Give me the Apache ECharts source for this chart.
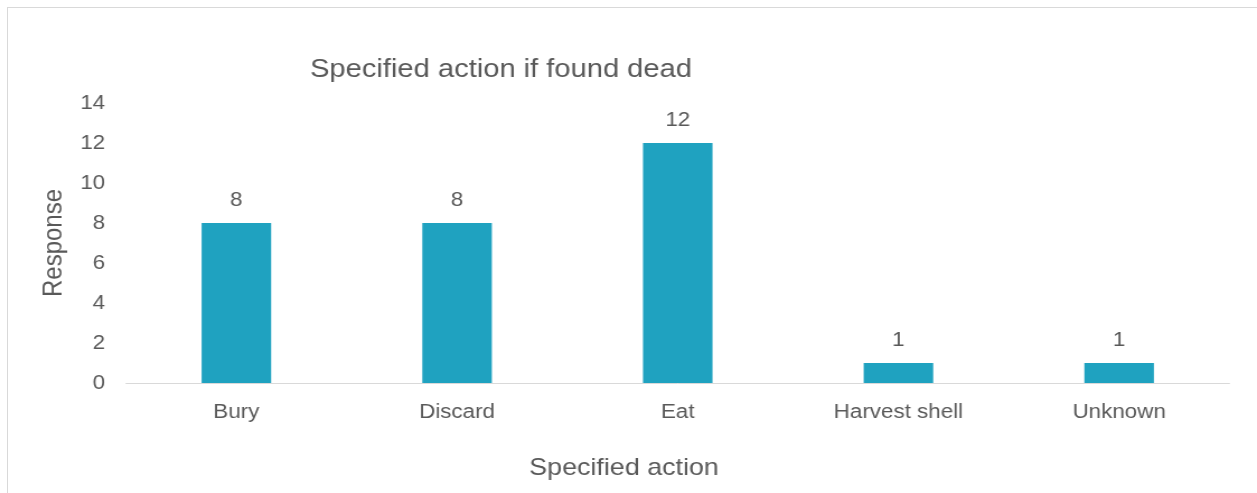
<!DOCTYPE html>
<html>
<head>
<meta charset="utf-8">
<script src="https://cdn.jsdelivr.net/npm/echarts@6/dist/echarts.min.js"></script>
<style>
html,body{margin:0;padding:0;background:#fff;overflow:hidden;}
#frame{position:absolute;left:7px;top:7px;width:1400px;height:700px;border-left:1px solid #d9d9d9;border-top:1px solid #d9d9d9;box-sizing:border-box;}
#c{position:absolute;left:0;top:0;width:1123px;height:493px;transform:scaleX(1.11932);transform-origin:0 0;}
</style>
</head>
<body>
<div id="frame"></div>
<div id="c"></div>
<script>
const categories = ['Bury', 'Discard', 'Eat', 'Harvest shell', 'Unknown'];
const responses = [8, 8, 12, 1, 1];
const yTicks = [0, 2, 4, 6, 8, 10, 12, 14];

const txt = '#595959';
const font = 'Liberation Sans, Arial, sans-serif';
const chart = echarts.init(document.getElementById('c'), null, {renderer: 'canvas'});
chart.setOption({
  animation: false,
  backgroundColor: 'transparent',
  title: {
    text: 'Specified action if found dead',
    left: 442.6, top: 52, textAlign: 'center',
    textStyle: {color: txt, fontFamily: font, fontSize: 26, fontWeight: 'normal'}
  },
  grid: {left: 112.6, right: 24.6, top: 103, bottom: 110, containLabel: false},
  xAxis: {
    type: 'category',
    data: categories,
    name: 'Specified action',
    nameLocation: 'middle',
    nameGap: 73,
    nameTextStyle: {color: txt, fontFamily: font, fontSize: 24, padding: [0, 96, 0, 0]},
    axisLine: {lineStyle: {color: '#d9d9d9', width: 1}},
    axisTick: {show: false},
    axisLabel: {color: txt, fontFamily: font, fontSize: 20, margin: 19}
  },
  yAxis: {
    type: 'value',
    min: yTicks[0], max: yTicks[yTicks.length - 1], interval: 2,
    name: 'Response',
    nameLocation: 'middle',
    nameGap: 44,
    nameTextStyle: {color: txt, fontFamily: font, fontSize: 24},
    splitLine: {show: false},
    axisLine: {show: false},
    axisTick: {show: false},
    axisLabel: {color: txt, fontFamily: font, fontSize: 20, margin: 18.7}
  },
  series: [{
    type: 'bar',
    data: responses,
    barWidth: '31.5%',
    itemStyle: {color: '#1fa2c0'},
    label: {show: true, position: 'top', distance: 13, color: txt, fontFamily: font, fontSize: 20}
  }]
});
</script>
</body>
</html>
